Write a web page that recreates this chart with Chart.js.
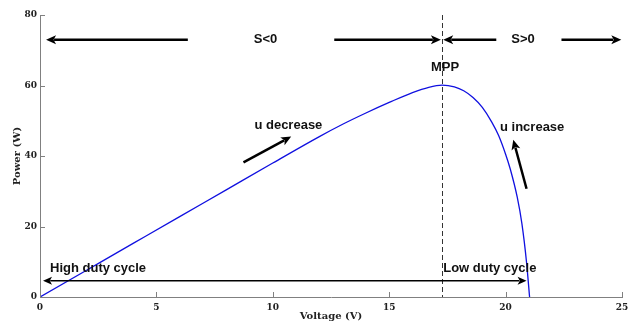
<!DOCTYPE html>
<html>
<head>
<meta charset="utf-8">
<script src="https://cdn.jsdelivr.net/npm/chart.js@4.4.1/dist/chart.umd.min.js"></script>
<style>
  html, body { margin: 0; padding: 0; background: #fff; }
  #wrap { width: 640px; height: 322px; }
</style>
</head>
<body>
<div id="wrap"><canvas id="chart" width="640" height="322"></canvas></div>
<script>
// P-V curve
const voltage = [0, 2, 4, 6, 8, 10, 12, 13, 14, 15, 16, 16.7, 17.27, 17.8, 18.2, 18.6, 19.0, 19.4, 19.7, 20.0, 20.2, 20.5, 20.7, 20.9, 21.03];
const power   = [0, 7.6, 15.2, 22.8, 30.4, 38.0, 45.5, 49.0, 52.2, 55.2, 58.0, 59.5, 60.1, 59.6, 58.5, 56.6, 53.8, 49.7, 45.8, 40.5, 36.3, 28.3, 20.8, 9.8, 0];
const xTicks = [0, 5, 10, 15, 20, 25];
const yTicks = [0, 20, 40, 60, 80];
const mppVoltage = 17.27;

// arrows in data units: [x1, y1, x2, y2] from tail to tip
const bigArrows = [
  [6.35, 73, 0.26, 73],
  [12.64, 73, 17.22, 73],
  [19.6, 73, 17.32, 73],
  [22.4, 73, 24.97, 73],
  [8.74, 38.2, 10.79, 45.5],
  [20.9, 30.7, 20.33, 44.6]
];
const thinArrows = [
  [17.27, 4.6, 0.13, 4.6],
  [17.27, 4.6, 20.9, 4.6]
];
// labels: [text, x, y, align]
const labels = [
  ['S<0', 9.69, 73, 'center'],
  ['S>0', 20.75, 73, 'center'],
  ['MPP', 17.4, 65.0, 'center'],
  ['u decrease', 9.21, 48.6, 'left'],
  ['u increase', 19.76, 48.0, 'left'],
  ['High duty cycle', 0.43, 8.2, 'left'],
  ['Low duty cycle', 17.32, 8.2, 'left']
];

function arrow(ctx, x1, y1, x2, y2, w, head) {
  const a = Math.atan2(y2 - y1, x2 - x1);
  ctx.lineWidth = w;
  ctx.beginPath();
  ctx.moveTo(x1, y1);
  ctx.lineTo(x2 - Math.cos(a) * head * 0.8, y2 - Math.sin(a) * head * 0.8);
  ctx.stroke();
  ctx.beginPath();
  ctx.moveTo(x2, y2);
  ctx.lineTo(x2 - head * Math.cos(a) + head * 0.45 * Math.sin(a), y2 - head * Math.sin(a) - head * 0.45 * Math.cos(a));
  ctx.lineTo(x2 - head * 0.75 * Math.cos(a), y2 - head * 0.75 * Math.sin(a));
  ctx.lineTo(x2 - head * Math.cos(a) - head * 0.45 * Math.sin(a), y2 - head * Math.sin(a) + head * 0.45 * Math.cos(a));
  ctx.closePath();
  ctx.fill();
}

const annotations = {
  id: 'annotations',
  afterDatasetsDraw(chart) {
    const { ctx, scales: { x, y } } = chart;
    ctx.save();
    // inward ticks
    ctx.strokeStyle = '#808080';
    ctx.lineWidth = 1;
    xTicks.forEach(v => {
      const px = Math.round(x.getPixelForValue(v)) + 0.5;
      ctx.beginPath();
      ctx.moveTo(px, y.bottom);
      ctx.lineTo(px, y.bottom - 5);
      ctx.stroke();
    });
    yTicks.forEach(v => {
      const py = Math.round(y.getPixelForValue(v)) + 0.5;
      ctx.beginPath();
      ctx.moveTo(x.left, py);
      ctx.lineTo(x.left + 5, py);
      ctx.stroke();
    });
    // MPP dashed line
    const mx = Math.round(x.getPixelForValue(mppVoltage)) + 0.5;
    ctx.strokeStyle = '#333';
    ctx.setLineDash([5, 3]);
    ctx.beginPath();
    ctx.moveTo(mx, y.getPixelForValue(80));
    ctx.lineTo(mx, y.getPixelForValue(0));
    ctx.stroke();
    ctx.setLineDash([]);
    // arrows
    ctx.strokeStyle = '#000';
    ctx.fillStyle = '#000';
    bigArrows.forEach(a => arrow(ctx, x.getPixelForValue(a[0]), y.getPixelForValue(a[1]),
      x.getPixelForValue(a[2]), y.getPixelForValue(a[3]), 2.5, 10));
    thinArrows.forEach(a => arrow(ctx, x.getPixelForValue(a[0]), y.getPixelForValue(a[1]),
      x.getPixelForValue(a[2]), y.getPixelForValue(a[3]), 1.5, 9));
    // texts
    ctx.font = 'bold 13px "Liberation Sans", Arial, sans-serif';
    ctx.textBaseline = 'middle';
    ctx.fillStyle = '#111';
    labels.forEach(l => {
      ctx.textAlign = l[3];
      ctx.fillText(l[0], x.getPixelForValue(l[1]), y.getPixelForValue(l[2]));
    });
    ctx.restore();
  }
};

const tickFont = { family: '"DejaVu Serif", serif', size: 9, weight: 'bold' };

new Chart(document.getElementById('chart'), {
  type: 'line',
  data: {
    datasets: [{
      data: voltage.map((v, i) => ({ x: v, y: power[i] })),
      borderColor: '#1010e0',
      borderWidth: 1.3,
      pointRadius: 0,
      cubicInterpolationMode: 'monotone',
      fill: false
    }]
  },
  options: {
    responsive: false,
    animation: false,
    layout: { padding: { top: 15, right: 18, left: 0, bottom: 0 } },
    plugins: { legend: { display: false }, tooltip: { enabled: false } },
    scales: {
      x: {
        type: 'linear', min: 0, max: 25,
        afterFit: s => { s.height = 25; },
        afterBuildTicks: s => { s.ticks = xTicks.map(v => ({ value: v })); },
        border: { display: true, color: '#808080' },
        grid: { drawOnChartArea: false, drawTicks: false },
        ticks: { font: tickFont, color: '#222', padding: 5, maxRotation: 0 },
        title: { display: true, text: 'Voltage (V)', color: '#222', padding: 0,
          font: { family: '"DejaVu Serif", serif', size: 10, weight: 'bold' } }
      },
      y: {
        min: 0, max: 80,
        afterFit: s => { s.width = 40; },
        afterBuildTicks: s => { s.ticks = yTicks.map(v => ({ value: v })); },
        border: { display: true, color: '#808080' },
        grid: { drawOnChartArea: false, drawTicks: false },
        ticks: { font: tickFont, color: '#222', padding: 3 },
        title: { display: true, text: 'Power (W)', color: '#222', padding: { top: 11, bottom: 0 },
          font: { family: '"DejaVu Serif", serif', size: 10, weight: 'bold' } }
      }
    }
  },
  plugins: [annotations]
});
</script>
</body>
</html>
